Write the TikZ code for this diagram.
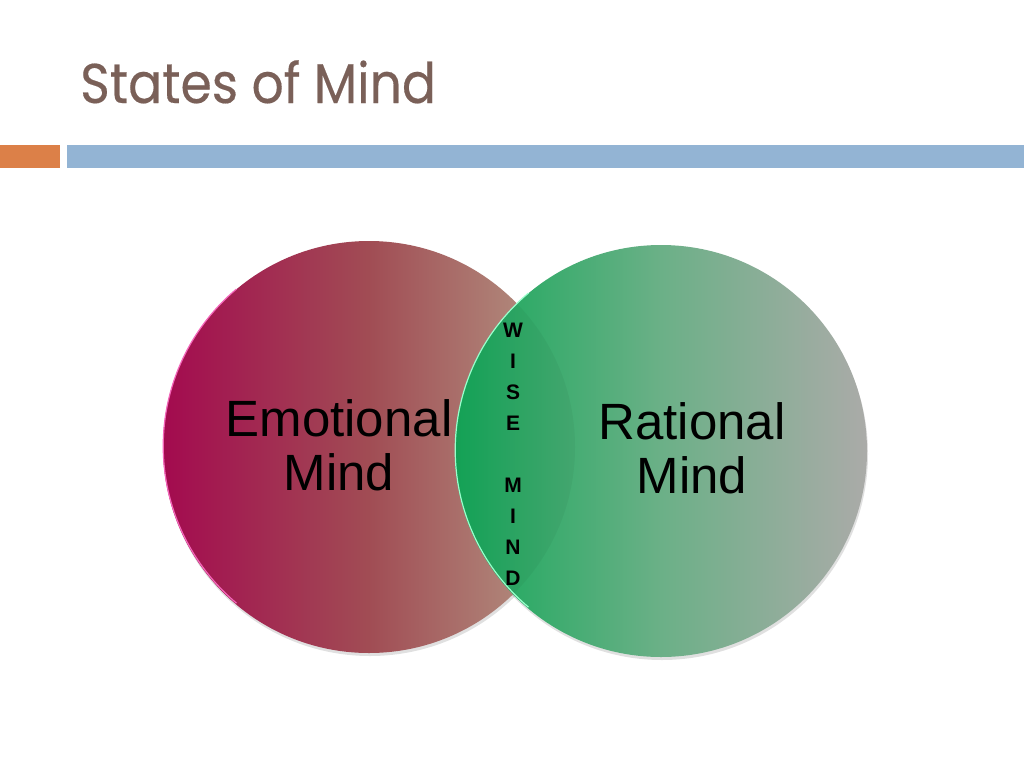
\documentclass[tikz,border=0pt]{standalone}
\usepackage{fontspec}
\setmainfont{Poppins}
\newfontfamily\titlefont{Poppins}[FakeBold=0.3]
\newfontfamily\arialfont{Liberation Sans}
\usetikzlibrary{positioning}
\definecolor{titlebrown}{RGB}{122,96,88}
\definecolor{barorange}{RGB}{220,128,72}
\definecolor{barblue}{RGB}{147,180,212}
\pgfdeclarehorizontalshading{emoshade}{100bp}{%
  rgb(0bp)=(0.64,0.04,0.31); rgb(25bp)=(0.64,0.04,0.31);
  rgb(50bp)=(0.63,0.30,0.33); rgb(75bp)=(0.71,0.61,0.53); rgb(100bp)=(0.71,0.61,0.53)}
\pgfdeclarehorizontalshading{ratshade}{100bp}{%
  rgb(0bp)=(0.08,0.66,0.35); rgb(25bp)=(0.08,0.66,0.35);
  rgb(50bp)=(0.42,0.69,0.53); rgb(75bp)=(0.67,0.67,0.66); rgb(100bp)=(0.67,0.67,0.66)}
\begin{document}
\begin{tikzpicture}[x=1pt, y=-1pt,
    mind/.style={circle, minimum size=412pt, inner sep=0pt},
    mindshadow/.style={fill=black, opacity=0.12},
    mindtext/.style={font=\arialfont\fontsize{51}{54}\selectfont, align=center, inner sep=0pt},
    wise/.style={font=\arialfont\bfseries\fontsize{21}{31}\selectfont, align=center, inner sep=0pt},
    emorim/.style={draw=magenta!60!white, line width=1.2pt},
    ratrim/.style={draw=green!50!cyan!40!white, line width=1.2pt},
]
\useasboundingbox (0,0) rectangle (1024,768);
\fill[white] (0,0) rectangle (1024,768);
% title and bars
\node[anchor=base west, font=\titlefont\fontsize{56}{60}\selectfont, text=titlebrown, inner sep=0pt] (title) at (80,103) {\scalebox{0.9}[1]{States of Mind}};
\fill[barorange] (0,145) rectangle (60,168);
\fill[barblue] (67,145) rectangle (1024,168);
% circles
\fill[mindshadow] (370,450) circle (206pt);
\fill[mindshadow] (662,454) circle (206pt);
\node[mind, shading=emoshade] (emo) at (369,447) {};
\node[mind, shading=ratshade] (rat) at (661,451) {};
\begin{scope}
  \clip (emo.center) circle (206pt);
  \fill[black, opacity=0.04] (rat.center) circle (206pt);
\end{scope}
\draw[emorim] (emo.130) arc[start angle=130, end angle=230, radius=205pt];
\draw[ratrim] (rat.130) arc[start angle=130, end angle=230, radius=205pt];
% labels
\node[mindtext] (emotext) at (339,445) {Emotional\\Mind};
\node[mindtext] (rattext) at (692,448) {Rational\\Mind};
\node[wise] (wisetext) at (513,454) {W\\I\\S\\E\\[31pt]M\\I\\N\\D};
\end{tikzpicture}
\end{document}
